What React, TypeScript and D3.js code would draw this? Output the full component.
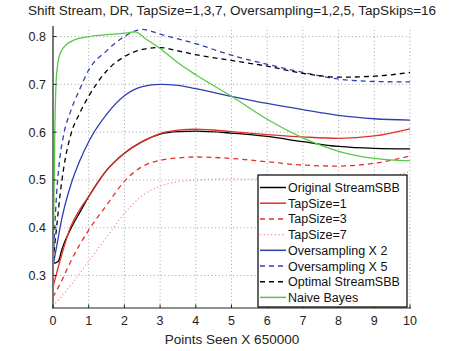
import { useEffect, useRef } from "react";
import * as d3 from "d3";

type Pt = [number, number];

const WIDTH = 464;
const HEIGHT = 351;
const PAD = { left: 53, right: 54, top: 27, bottom: 43 };
const FONT = "'Liberation Sans', Arial, Helvetica, sans-serif";

const xTicks = [0, 1, 2, 3, 4, 5, 6, 7, 8, 9, 10];
const yTicks = [0.3, 0.4, 0.5, 0.6, 0.7, 0.8];

const original: Pt[] = [[0, 0.325], [0.15, 0.33], [0.25, 0.355], [0.5, 0.398], [0.75, 0.432], [1, 0.465], [1.5, 0.52], [2, 0.556], [2.5, 0.58], [3, 0.596], [3.5, 0.601], [4, 0.602], [5, 0.598], [6, 0.591], [7, 0.58], [8, 0.57], [9, 0.566], [10, 0.565]];
const tap1: Pt[] = [[0, 0.276], [0.25, 0.345], [0.5, 0.403], [0.75, 0.438], [1, 0.465], [1.5, 0.52], [2, 0.556], [2.5, 0.58], [3, 0.597], [3.5, 0.604], [4, 0.606], [5, 0.601], [6, 0.595], [7, 0.59], [8, 0.587], [9, 0.592], [10, 0.607]];
const tap3: Pt[] = [[0, 0.255], [0.25, 0.29], [0.5, 0.33], [1, 0.395], [1.5, 0.447], [2, 0.497], [2.5, 0.528], [3, 0.541], [3.5, 0.546], [4, 0.548], [5, 0.545], [6, 0.538], [7, 0.531], [8, 0.529], [9, 0.535], [10, 0.55]];
const tap7: Pt[] = [[0, 0.236], [0.5, 0.28], [1, 0.33], [1.5, 0.38], [2, 0.43], [2.5, 0.467], [3, 0.487], [3.5, 0.496], [4, 0.5], [5, 0.502], [6, 0.502], [7, 0.5], [8, 0.499], [9, 0.502], [10, 0.517]];
const over2: Pt[] = [[0, 0.32], [0.1, 0.36], [0.25, 0.42], [0.5, 0.49], [0.75, 0.54], [1, 0.58], [1.5, 0.637], [2, 0.676], [2.5, 0.695], [3, 0.7], [3.5, 0.698], [4, 0.691], [5, 0.675], [6, 0.66], [7, 0.647], [8, 0.635], [9, 0.628], [10, 0.625]];
const over5: Pt[] = [[0, 0.32], [0.1, 0.47], [0.2, 0.55], [0.3, 0.595], [0.5, 0.645], [0.75, 0.69], [1, 0.73], [1.5, 0.77], [2, 0.8], [2.5, 0.815], [3, 0.805], [4, 0.785], [5, 0.761], [6, 0.742], [7, 0.725], [8, 0.711], [9, 0.706], [10, 0.705]];
const optimal: Pt[] = [[0, 0.33], [0.1, 0.4], [0.2, 0.47], [0.3, 0.525], [0.5, 0.595], [0.75, 0.64], [1, 0.675], [1.5, 0.728], [2, 0.758], [2.5, 0.773], [3, 0.777], [3.5, 0.77], [4, 0.762], [5, 0.75], [6, 0.738], [7, 0.723], [8, 0.715], [9, 0.717], [10, 0.725]];
const naive: Pt[] = [[0, 0.3], [0.05, 0.6], [0.1, 0.72], [0.2, 0.765], [0.4, 0.785], [0.6, 0.793], [1, 0.8], [1.5, 0.804], [2, 0.807], [2.3, 0.81], [2.6, 0.795], [3, 0.775], [3.5, 0.745], [4, 0.72], [5, 0.675], [6, 0.627], [7, 0.588], [8, 0.56], [9, 0.545], [10, 0.54]];

const series = [
  { name: "Original StreamSBB", data: original, color: "#000000", dash: null, width: 1.3 },
  { name: "TapSize=1", data: tap1, color: "#e3302b", dash: null, width: 1.3 },
  { name: "TapSize=3", data: tap3, color: "#e3302b", dash: "5 4", width: 1.3 },
  { name: "TapSize=7", data: tap7, color: "#f08a8a", dash: "1.2 2.5", width: 1.1 },
  { name: "Oversampling X 2", data: over2, color: "#2f3fb0", dash: null, width: 1.3 },
  { name: "Oversampling X 5", data: over5, color: "#2f3fb0", dash: "5 4", width: 1.3 },
  { name: "Optimal StreamSBB", data: optimal, color: "#000000", dash: "5 4", width: 1.3 },
  { name: "Naive Bayes", data: naive, color: "#55c945", dash: null, width: 1.3 },
];

export default function App() {
  const svgRef = useRef<SVGSVGElement | null>(null);

  useEffect(() => {
    const svgEl = svgRef.current;
    if (!svgEl) return;
    const svg = d3.select(svgEl);
    svg.selectAll("*").remove();

    const x = d3.scaleLinear().domain([0, 10]).range([PAD.left, WIDTH - PAD.right]);
    const y = d3.scaleLinear().domain([0.232, 0.82]).range([HEIGHT - PAD.bottom, PAD.top]);
    const x0 = PAD.left;
    const x1 = WIDTH - PAD.right;
    const y0 = HEIGHT - PAD.bottom;
    const y1 = PAD.top;

    svg.append("rect").attr("width", WIDTH).attr("height", HEIGHT).attr("fill", "#fff");

    // dotted grid
    const grid = svg.append("g").attr("stroke", "#9a9a9a").attr("stroke-width", 0.9).attr("stroke-dasharray", "1 2.6");
    grid
      .selectAll("line.gx")
      .data(xTicks.filter((d) => d > 0))
      .join("line")
      .attr("class", "gx")
      .attr("x1", (d) => x(d))
      .attr("x2", (d) => x(d))
      .attr("y1", y0)
      .attr("y2", y1);
    grid
      .selectAll("line.gy")
      .data(yTicks)
      .join("line")
      .attr("class", "gy")
      .attr("x1", x0)
      .attr("x2", x1)
      .attr("y1", (d) => y(d))
      .attr("y2", (d) => y(d));

    // curves
    const line = d3
      .line<Pt>()
      .x((d) => x(d[0]))
      .y((d) => y(d[1]))
      .curve(d3.curveMonotoneX);
    const gLines = svg.append("g");
    series.forEach((s) => {
      gLines
        .append("path")
        .attr("d", line(s.data))
        .attr("fill", "none")
        .attr("stroke", s.color)
        .attr("stroke-width", s.width)
        .attr("stroke-dasharray", s.dash);
    });

    // axes
    svg.append("line").attr("x1", x0).attr("x2", x0).attr("y1", y1 - 1).attr("y2", y0).attr("stroke", "#777").attr("stroke-width", 2);
    svg.append("line").attr("x1", x0 - 1).attr("x2", x1 + 1).attr("y1", y0).attr("y2", y0).attr("stroke", "#222").attr("stroke-width", 1.2);

    const tx = svg.append("g");
    tx.selectAll("line")
      .data(xTicks)
      .join("line")
      .attr("x1", (d) => x(d))
      .attr("x2", (d) => x(d))
      .attr("y1", y0)
      .attr("y2", y0 - 3.5)
      .attr("stroke", "#222");
    tx.selectAll("text")
      .data(xTicks)
      .join("text")
      .attr("x", (d) => x(d))
      .attr("y", y0 + 17)
      .attr("text-anchor", "middle")
      .attr("font-family", FONT)
      .attr("font-size", 12.5)
      .attr("fill", "#222")
      .text((d) => String(d));

    const ty = svg.append("g");
    ty.selectAll("line")
      .data(yTicks)
      .join("line")
      .attr("x1", x0)
      .attr("x2", x0 + 3.5)
      .attr("y1", (d) => y(d))
      .attr("y2", (d) => y(d))
      .attr("stroke", "#222");
    ty.selectAll("text")
      .data(yTicks)
      .join("text")
      .attr("x", x0 - 7)
      .attr("y", (d) => y(d) + 4.5)
      .attr("text-anchor", "end")
      .attr("font-family", FONT)
      .attr("font-size", 12.5)
      .attr("fill", "#222")
      .text((d) => d3.format(".1f")(d));

    svg
      .append("text")
      .attr("x", 232)
      .attr("y", 15)
      .attr("text-anchor", "middle")
      .attr("font-family", FONT)
      .attr("font-size", 13.5)
      .attr("fill", "#222")
      .text("Shift Stream, DR, TapSize=1,3,7, Oversampling=1,2,5, TapSkips=16");

    svg
      .append("text")
      .attr("x", 232)
      .attr("y", 344)
      .attr("text-anchor", "middle")
      .attr("font-family", FONT)
      .attr("font-size", 13.5)
      .attr("fill", "#222")
      .text("Points Seen X 650000");

    // legend
    const lg = svg.append("g").attr("transform", "translate(258, 175)");
    lg.append("rect").attr("width", 149).attr("height", 132).attr("fill", "#fff").attr("stroke", "#000").attr("stroke-width", 1.2);
    series.forEach((s, i) => {
      const ly = 12.5 + i * 15.7;
      lg.append("line")
        .attr("x1", 2)
        .attr("x2", 28)
        .attr("y1", ly)
        .attr("y2", ly)
        .attr("stroke", s.color)
        .attr("stroke-width", s.width + 0.2)
        .attr("stroke-dasharray", s.dash);
      lg.append("text")
        .attr("x", 30)
        .attr("y", ly + 4.5)
        .attr("font-family", FONT)
        .attr("font-size", 12.5)
        .attr("fill", "#111")
        .text(s.name);
    });
  }, []);

  return (
    <div style={{ position: "fixed", left: 0, top: 0 }}>
      <svg ref={svgRef} width={WIDTH} height={HEIGHT} style={{ display: "block" }} />
    </div>
  );
}
